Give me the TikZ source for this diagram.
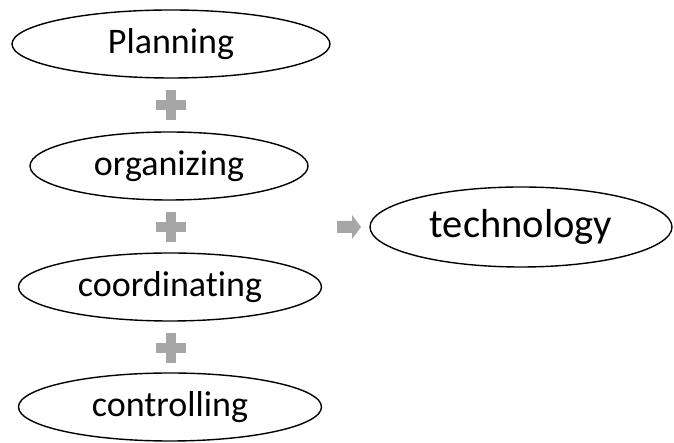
\documentclass[tikz,border=0pt]{standalone}
\usepackage{fontspec}
\setmainfont[Ligatures={NoCommon}]{Carlito}
\usetikzlibrary{shapes.geometric}
\definecolor{opgray}{RGB}{166,166,166}
\tikzset{
    stage/.style={draw, ellipse, line width=1.4pt, inner sep=0pt,
        minimum height=68pt, font=\fontsize{36}{40}\selectfont},
    result/.style={stage, minimum height=80pt, font=\fontsize{40.5}{44}\selectfont}
}

\begin{document}
\begin{tikzpicture}[x=1pt,y=1pt]
    \useasboundingbox (0,0) rectangle (674,443);
    \node[stage, minimum width=318pt] (plan) at (171,399) {Planning};
    \node[stage, minimum width=278pt] (org) at (169,277) {organizing};
    \node[stage, minimum width=303pt] (coord) at (170,156) {coordinating};
    \node[stage, minimum width=303pt] (ctrl) at (170,36) {controlling};
    \node[result, minimum width=302pt] (tech) at (521,216) {technology};
    % plus signs between the stages
    \foreach \py in {338,216,95}{
        \fill[opgray] (156,\py-5) rectangle (186,\py+5);
        \fill[opgray] (166,\py-15) rectangle (176,\py+15);
    }
    % arrow to the result
    \fill[opgray] (337,210) -- (352,210) -- (352,204) -- (361,216)
        -- (352,228) -- (352,222) -- (337,222) -- cycle;
\end{tikzpicture}
\end{document}
